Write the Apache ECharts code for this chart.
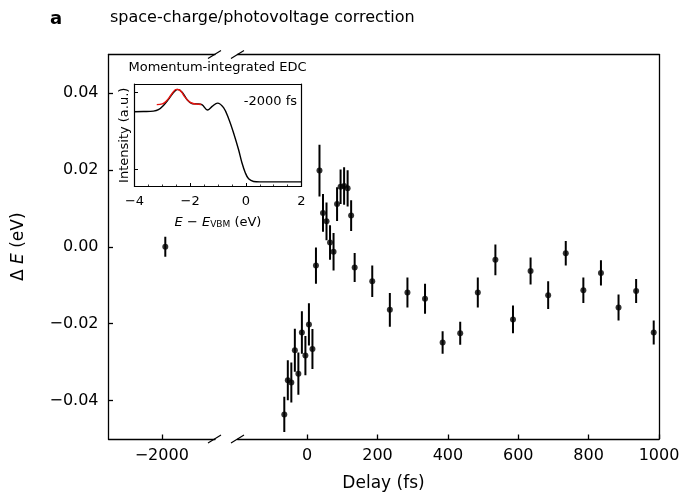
<!DOCTYPE html>
<html>
<head>
<meta charset="utf-8">
<script src="https://cdn.jsdelivr.net/npm/echarts@6/dist/echarts.min.js"></script>
<style>
html,body{margin:0;padding:0;background:#fff;}
#chart{width:683px;height:500px;}
</style>
</head>
<body>
<div id="chart"></div>
<script>
// ---- data ----
const leftDelays = [-1990];
const leftDE = [0.000];
const leftErr = [0.0026];

const delays = [-65,-55,-45,-35,-25,-15,-5,5,15,25,35,45,55,65,75,85,95,105,115,125,135,
  185,235,285,335,385,435,485,535,585,635,685,735,785,835,885,935,985];
const dE = [-0.0436,-0.0347,-0.0353,-0.0269,-0.0330,-0.0223,-0.0283,-0.0202,-0.0266,-0.0049,0.0198,
  0.0088,0.0066,0.0011,-0.0013,0.0111,0.0156,0.0158,0.0152,0.0081,-0.0054,
  -0.0090,-0.0164,-0.0119,-0.0135,-0.0249,-0.0225,-0.0119,-0.0034,-0.0189,-0.0063,-0.0126,-0.0017,
  -0.0113,-0.0068,-0.0158,-0.0115,-0.0223];
const dEErr = [0.0046,0.0052,0.0052,0.0056,0.0055,0.0055,0.0051,0.0055,0.0052,0.0047,0.0067,
  0.0049,0.0049,0.0045,0.0049,0.0044,0.0045,0.0049,0.0047,0.0040,0.0038,
  0.0041,0.0044,0.0039,0.0039,0.0029,0.0030,0.0039,0.0040,0.0036,0.0035,0.0036,0.0032,
  0.0033,0.0033,0.0034,0.0031,0.0031];

const leftTicks = [-2000];
const rightTicks = [0,200,400,600,800,1000];
const yTicks = [-0.04,-0.02,0,0.02,0.04];

// inset EDC
const edcE = [-4.0,-3.68,-3.32,-3.14,-2.96,-2.78,-2.62,-2.45,-2.28,-2.10,-1.94,-1.76,-1.58,-1.38,-1.20,-1.02,-0.80,-0.62,-0.44,-0.26,-0.14,-0.02,0.10,0.28,0.51,2.0];
const edcI = [0.747,0.750,0.756,0.775,0.83,0.91,0.99,1.04,1.0,0.90,0.855,0.85,0.84,0.77,0.82,0.86,0.80,0.66,0.47,0.25,0.08,-0.05,-0.13,-0.165,-0.17,-0.17];
const fitE = [-3.2,-3.0,-2.85,-2.7,-2.6,-2.5,-2.4,-2.3,-2.2,-2.05,-1.9,-1.7,-1.6];
const fitI = [0.84,0.85,0.89,0.96,1.01,1.04,1.035,1.0,0.945,0.885,0.855,0.845,0.842];
const insetXTicks = [-4,-2,0,2];
const insetYTicks = [0,1];

// ---- chart ----
const FONT = 'DejaVu Sans';
const minus = s => String(s).replace('-', '\u2212');
const chart = echarts.init(document.getElementById('chart'));

const lineStyle = {color:'#000', width:1.3};
const spineOnly = (extra) => Object.assign({
  type:'value', axisLine:{show:true, onZero:false, lineStyle}, axisTick:{show:false},
  axisLabel:{show:false}, splitLine:{show:false}
}, extra);

const errRender = (params, api) => {
  const x = api.value(0), y = api.value(1), e = api.value(2);
  const p1 = api.coord([x, y - e]), p2 = api.coord([x, y + e]);
  return {type:'line', shape:{x1:p1[0], y1:p1[1], x2:p2[0], y2:p2[1]},
          style:{stroke:'#000', lineWidth:2}};
};

const yMain = (idx, pos, showLabels) => ({
  type:'value', gridIndex: idx, position: pos, min:-0.05, max:0.05,
  axisLine:{show:true, onZero:false, lineStyle},
  axisTick:{show:showLabels, inside:true, length:4.5, lineStyle, customValues: yTicks},
  axisLabel:{show:showLabels, customValues: yTicks, margin:10, fontFamily:FONT, fontSize:16, color:'#000',
    formatter: v => minus((Math.abs(v) < 1e-9 ? 0 : v).toFixed(2))},
  splitLine:{show:false},
  name: showLabels ? '{d|\u0394 }{e|E}{d| (eV)}' : '', nameLocation:'middle', nameGap:81,
  nameTextStyle:{rich:{d:{fontFamily:FONT, fontSize:17, color:'#000'}, e:{fontFamily:FONT, fontSize:17, fontStyle:'italic', color:'#000'}}}
});

const option = {
  animation:false,
  backgroundColor:'#fff',
  grid:[
    {left:108.5, top:54.5, width:106.5, height:384.5},
    {left:237.5, top:54.5, width:421.5, height:384.5},
    {left:134.5, top:84, width:167, height:102.5, show:true, backgroundColor:'#fff', borderWidth:0, z:10}
  ],
  xAxis:[
    {type:'value', gridIndex:0, position:'bottom', min:-2150, max:-1850,
      axisLine:{show:true, onZero:false, lineStyle},
      axisTick:{show:true, inside:true, length:4.5, lineStyle, customValues:leftTicks},
      axisLabel:{customValues:leftTicks, margin:9, fontFamily:FONT, fontSize:16, color:'#000', formatter:v=>minus(v)},
      splitLine:{show:false}},
    spineOnly({gridIndex:0, position:'top', min:-2150, max:-1850}),
    {type:'value', gridIndex:1, position:'bottom', min:-198, max:1000,
      axisLine:{show:true, onZero:false, lineStyle},
      axisTick:{show:true, inside:true, length:4.5, lineStyle, customValues:rightTicks},
      axisLabel:{customValues:rightTicks, margin:9, fontFamily:FONT, fontSize:16, color:'#000', formatter:v=>minus(v)},
      splitLine:{show:false}},
    spineOnly({gridIndex:1, position:'top', min:-198, max:1000}),
    {type:'value', gridIndex:2, position:'bottom', min:-4, max:2, interval:2,
      axisLine:{show:true, onZero:false, lineStyle:{color:'#000', width:1.2}},
      axisTick:{show:true, inside:true, length:3.5, lineStyle:{color:'#000', width:1}},
      minorTick:{show:true, splitNumber:4, length:2, lineStyle:{color:'#000', width:0.8}},
      axisLabel:{margin:9, fontFamily:FONT, fontSize:13, color:'#000', formatter:v=>minus(v)},
      splitLine:{show:false}, z:11,
      name:'{i|E} \u2212 {i|E}{s|VBM} (eV)', nameLocation:'middle', nameGap:30,
      nameTextStyle:{fontFamily:FONT, fontSize:13, color:'#000',
        rich:{i:{fontFamily:FONT, fontSize:13, fontStyle:'italic', color:'#000'},
              s:{fontFamily:FONT, fontSize:9, color:'#000', verticalAlign:'bottom', padding:[4,0,0,0]}}}},
    spineOnly({gridIndex:2, position:'top', min:-4, max:2, axisLine:{show:true, onZero:false, lineStyle:{color:'#000', width:1.2}}, z:11})
  ],
  yAxis:[
    yMain(0, 'left', true),
    spineOnly({gridIndex:1, position:'right', min:-0.05, max:0.05}),
    {type:'value', gridIndex:2, position:'left', min:-0.23, max:1.11,
      axisLine:{show:true, onZero:false, lineStyle:{color:'#000', width:1.2}},
      axisTick:{show:true, inside:true, length:3.5, lineStyle:{color:'#000', width:1}, customValues:insetYTicks},
      axisLabel:{show:false}, splitLine:{show:false}, z:11,
      name:'Intensity (a.u.)', nameLocation:'middle', nameGap:3,
      nameTextStyle:{fontFamily:FONT, fontSize:13, color:'#000'}},
    spineOnly({gridIndex:2, position:'right', min:-0.23, max:1.11, axisLine:{show:true, onZero:false, lineStyle:{color:'#000', width:1.2}}, z:11})
  ],
  series:[
    {type:'custom', xAxisIndex:0, yAxisIndex:0, renderItem:errRender, clip:true,
      data: leftDelays.map((d,i)=>[d, leftDE[i], leftErr[i]])},
    {type:'scatter', xAxisIndex:0, yAxisIndex:0, symbolSize:6, itemStyle:{color:'#000'},
      data: leftDelays.map((d,i)=>[d, leftDE[i]])},
    {type:'custom', xAxisIndex:2, yAxisIndex:1, renderItem:errRender, clip:true,
      data: delays.map((d,i)=>[d, dE[i], dEErr[i]])},
    {type:'scatter', xAxisIndex:2, yAxisIndex:1, symbolSize:6, itemStyle:{color:'#000'},
      data: delays.map((d,i)=>[d, dE[i]])},
    {type:'line', xAxisIndex:4, yAxisIndex:2, showSymbol:false, smooth:0.35, z:12,
      lineStyle:{color:'#000', width:1.4}, data: edcE.map((e,i)=>[e, edcI[i]])},
    {type:'line', xAxisIndex:4, yAxisIndex:2, showSymbol:false, smooth:0.4, z:13,
      lineStyle:{color:'#e8140f', width:1.4}, data: fitE.map((e,i)=>[e, fitI[i]])}
  ],
  graphic:[
    {type:'text', left:50, top:10, style:{text:'a', fontFamily:FONT, fontSize:18, fontWeight:'bold', fill:'#000'}},
    {type:'text', left:110, top:10, style:{text:'space-charge/photovoltage correction', fontFamily:FONT, fontSize:16, fill:'#000'}},
    {type:'text', x:383.5, y:484, style:{text:'Delay (fs)', fontFamily:FONT, fontSize:17, fill:'#000', align:'center', verticalAlign:'middle'}},
    {type:'text', x:217.5, y:68, style:{text:'Momentum-integrated EDC', fontFamily:FONT, fontSize:13, fill:'#000', align:'center', verticalAlign:'middle'}, z:20},
    {type:'text', x:297, y:102, style:{text:'-2000 fs', fontFamily:FONT, fontSize:13, fill:'#000', align:'right', verticalAlign:'middle'}, z:20},
    // axis-break marks
    {type:'line', shape:{x1:208, y1:58.5, x2:221, y2:50.5}, style:{stroke:'#000', lineWidth:1.1}},
    {type:'line', shape:{x1:231, y1:58.5, x2:244, y2:50.5}, style:{stroke:'#000', lineWidth:1.1}},
    {type:'line', shape:{x1:208, y1:443, x2:221, y2:435}, style:{stroke:'#000', lineWidth:1.1}},
    {type:'line', shape:{x1:231, y1:443, x2:244, y2:435}, style:{stroke:'#000', lineWidth:1.1}}
  ]
};
chart.setOption(option);
</script>
</body>
</html>
